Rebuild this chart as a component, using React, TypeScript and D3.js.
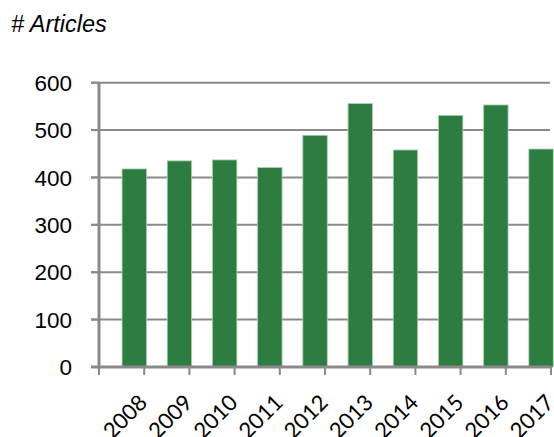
import React from "react";
import * as d3 from "d3";

const years = ["2008", "2009", "2010", "2011", "2012", "2013", "2014", "2015", "2016", "2017"];
const articles = [418, 435, 437, 421, 489, 556, 458, 531, 553, 460];
const yTicks = [0, 100, 200, 300, 400, 500, 600];
const title = "# Articles";

const W = 554;
const H = 437;
const plotLeft = 99;
const plotRight = 551;
const plotTop = 82.7;
const plotBottom = 367;

export default function App() {
  const x = d3.scaleBand<string>().domain(years).range([plotLeft, plotRight]);
  const y = d3.scaleLinear().domain([0, 600]).range([plotBottom, plotTop]);
  const bw = x.bandwidth();
  const gridColor = "#8a8a8a";

  return (
    <svg
      width={W}
      height={H}
      style={{ position: "absolute", left: 0, top: 0 }}
      xmlns="http://www.w3.org/2000/svg"
    >
      <rect width={W} height={H} fill="#fff" />
      <text
        x={11}
        y={32}
        fontFamily="Liberation Sans, Arial, sans-serif"
        fontStyle="italic"
        fontSize={23.5}
        fill="#000"
      >
        {title}
      </text>
      {/* gridlines */}
      {yTicks.filter((t) => t > 0).map((t) => (
        <line
          key={"g" + t}
          x1={plotLeft - 8}
          x2={550}
          y1={y(t)}
          y2={y(t)}
          stroke={gridColor}
          strokeWidth={2}
        />
      ))}
      {/* bars */}
      {years.map((yr, i) => (
        <rect
          key={yr}
          x={(x(yr) as number) + bw * 0.51}
          y={y(articles[i])}
          width={bw * 0.54}
          height={y(0) - y(articles[i])}
          fill="#2e7d40"
          stroke="#a9cfb1"
          strokeWidth={0.8}
        />
      ))}
      {/* y axis */}
      <line x1={plotLeft} x2={plotLeft} y1={plotTop} y2={plotBottom + 1.5} stroke={gridColor} strokeWidth={3} />
      {yTicks.map((t) => (
        <g key={"yt" + t}>
          <line x1={plotLeft - 8} x2={plotLeft} y1={y(t)} y2={y(t)} stroke={gridColor} strokeWidth={2} />
          <text
            x={72}
            y={y(t)}
            dy="0.36em"
            textAnchor="end"
            fontFamily="Liberation Sans, Arial, sans-serif"
            fontSize={22.5}
            fill="#000"
          >
            {t}
          </text>
        </g>
      ))}
      {/* x axis */}
      <line x1={plotLeft - 8} x2={plotRight} y1={plotBottom} y2={plotBottom} stroke={gridColor} strokeWidth={3} />
      {[...years.map((yr) => x(yr) as number), plotRight].map((px, i) => (
        <line key={"xt" + i} x1={px} x2={px} y1={plotBottom} y2={plotBottom + 8} stroke={gridColor} strokeWidth={2} />
      ))}
      {years.map((yr) => {
        const ax = (x(yr) as number) + bw / 2 + 27;
        const ay = 404;
        return (
          <text
            key={"xl" + yr}
            x={ax}
            y={ay}
            textAnchor="end"
            transform={`rotate(-45 ${ax} ${ay})`}
            fontFamily="Lato, sans-serif"
            fontSize={22}
            fill="#000"
          >
            {yr}
          </text>
        );
      })}
    </svg>
  );
}
